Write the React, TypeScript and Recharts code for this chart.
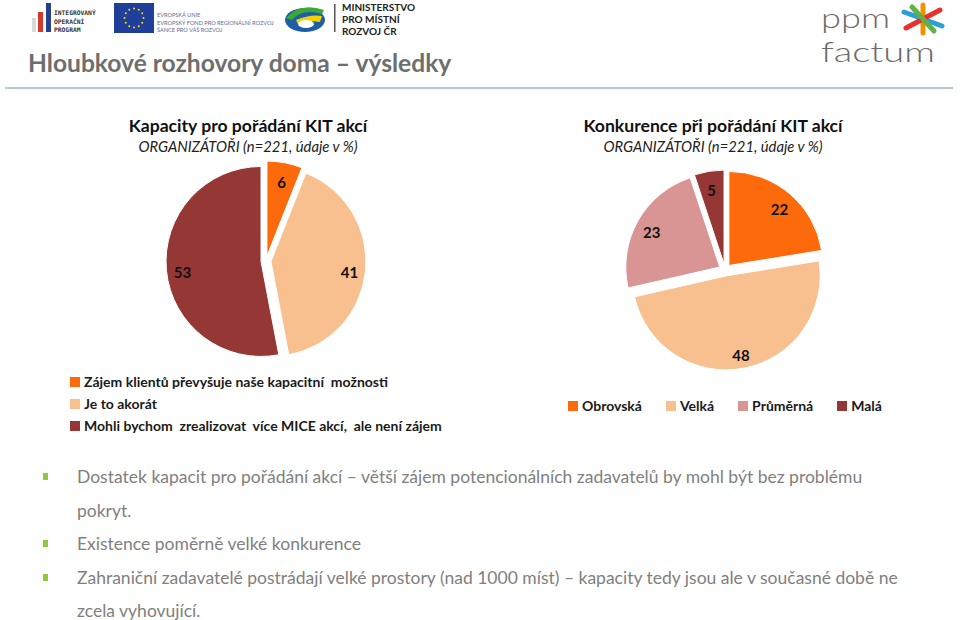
import { Cell, Pie, PieChart } from "recharts";

// Kapacity pro pořádání KIT akcí
const capacityLabels = [
  "Zájem klientů převyšuje naše kapacitní  možnosti",
  "Je to akorát",
  "Mohli bychom  zrealizovat  více MICE akcí,  ale není zájem",
];
const capacityValues = [6, 41, 53];
const capacityColors = ["#fd6a0c", "#f9c08f", "#943735"];

// Konkurence při pořádání KIT akcí
const competitionLabels = ["Obrovská", "Velká", "Průměrná", "Malá"];
const competitionValues = [22, 48, 23, 5];
const competitionColors = ["#fd6a0c", "#f9c08f", "#d99594", "#943735"];

const bulletLines = [
  ["Dostatek kapacit pro pořádání akcí – větší zájem potencionálních zadavatelů by mohl být bez problému", "pokryt."],
  ["Existence poměrně velké konkurence"],
  ["Zahraniční zadavatelé postrádají velké prostory (nad 1000 míst) – kapacity tedy jsou ale v současné době ne", "zcela vyhovující."],
];

const FONT = "Lato, 'Noto Sans', sans-serif";
const RAD = Math.PI / 180;

// clockwise from 12 o'clock, each slice pushed out along its mid angle
function explode(values: number[], offset: number) {
  const total = values.reduce((a, b) => a + b, 0);
  let acc = 0;
  return values.map((v) => {
    const start = 90 - (acc / total) * 360;
    acc += v;
    const end = 90 - (acc / total) * 360;
    const mid = ((start + end) / 2) * RAD;
    return { start, end, dx: offset * Math.cos(mid), dy: -offset * Math.sin(mid) };
  });
}

function renderLabel(props: any) {
  const { cx, cy, midAngle, outerRadius, value } = props;
  const r = outerRadius * 0.83;
  const x = cx + r * Math.cos(-midAngle * RAD);
  const y = cy + r * Math.sin(-midAngle * RAD) + 3;
  return (
    <text
      x={x}
      y={y}
      textAnchor="middle"
      dominantBaseline="central"
      fontFamily={FONT}
      fontWeight={700}
      fontSize={15}
      fill="#111"
    >
      {value}
    </text>
  );
}

function ExplodedPie({
  labels,
  values,
  colors,
  width,
  height,
  cx,
  cy,
  radius,
  offset,
}: {
  labels: string[];
  values: number[];
  colors: string[];
  width: number;
  height: number;
  cx: number;
  cy: number;
  radius: number;
  offset: number;
}) {
  const slices = explode(values, offset);
  return (
    <PieChart width={width} height={height} margin={{ top: 0, right: 0, bottom: 0, left: 0 }}>
      {slices.map((s, i) => (
        <Pie
          key={labels[i]}
          data={[{ name: labels[i], value: values[i] }]}
          dataKey="value"
          nameKey="name"
          cx={cx + s.dx}
          cy={cy + s.dy}
          outerRadius={radius}
          startAngle={s.start}
          endAngle={s.end}
          stroke="#fff"
          strokeWidth={1}
          label={renderLabel}
          labelLine={false}
          isAnimationActive={false}
        >
          <Cell fill={colors[i]} />
        </Pie>
      ))}
    </PieChart>
  );
}

function Logos() {
  const stars = Array.from({ length: 12 }, (_, i) => i * 30 * RAD);
  return (
    <svg width={960} height={90} style={{ position: "absolute", left: 0, top: 0 }}>
      {/* IOP */}
      <rect x={32} y={18} width={4} height={14} fill="#d9d9d9" />
      <rect x={38} y={12} width={5} height={20} fill="#d33a2c" />
      <rect x={46} y={3} width={5} height={29} fill="#27408b" />
      <g fontFamily="'DejaVu Sans Mono', monospace" fontWeight={700} fontSize={6.3} fill="#333">
        <text x={54} y={15}>INTEGROVANÝ</text>
        <text x={54} y={24}>OPERAČNÍ</text>
        <text x={54} y={32}>PROGRAM</text>
      </g>
      {/* EU */}
      <rect x={114} y={3} width={40} height={30} fill="#1f3f9a" />
      {stars.map((a, i) => (
        <circle key={i} cx={134 + 9.5 * Math.cos(a)} cy={18 + 9.5 * Math.sin(a)} r={1} fill="#ffdd00" />
      ))}
      <g fontFamily={FONT} fontSize={5.6} fill="#5a6a9a">
        <text x={157} y={17}>EVROPSKÁ UNIE</text>
        <text x={157} y={25}>EVROPSKÝ FOND PRO REGIONÁLNÍ ROZVOJ</text>
        <text x={157} y={32}>ŠANCE PRO VÁŠ ROZVOJ</text>
      </g>
      {/* MMR */}
      <ellipse cx={305} cy={20} rx={20} ry={12} fill="#1d5ea8" />
      <path d="M286 18 Q300 2 324 10 L322 14 Q302 8 292 20 Z" fill="#3aa935" />
      <path d="M296 20 Q310 14 322 16 L320 22 Q308 20 298 24 Z" fill="#f4d000" />
      <ellipse cx={306} cy={24} rx={8} ry={4} fill="#fff" />
      <rect x={334} y={4} width={1.5} height={28} fill="#555" />
      <g fontFamily={FONT} fontWeight={700} fontSize={10} fill="#222">
        <text x={342} y={11}>MINISTERSTVO</text>
        <text x={342} y={23}>PRO MÍSTNÍ</text>
        <text x={342} y={35}>ROZVOJ ČR</text>
      </g>
      {/* ppm factum */}
      <g fontFamily={FONT} fontWeight={300} fontSize={28} fill="#6b6b6b">
        <text x={821} y={28} textLength={69} lengthAdjust="spacingAndGlyphs">ppm</text>
        <text x={821} y={62} textLength={114} lengthAdjust="spacingAndGlyphs">factum</text>
      </g>
      <g strokeWidth={5} strokeLinecap="round">
        <line x1={923} y1={5} x2={923} y2={33} stroke="#f29100" />
        <line x1={904} y1={12} x2={942} y2={26} stroke="#2c9fd9" />
        <line x1={906} y1={28} x2={940} y2={10} stroke="#e4332d" />
        <line x1={912} y1={7} x2={934} y2={31} stroke="#5fb246" />
      </g>
      <line x1={5} y1={88} x2={953} y2={88} stroke="#9fb4cc" strokeWidth={1.5} />
    </svg>
  );
}

function ChartTitle({ title, center }: { title: string; center: number }) {
  return (
    <div
      style={{
        position: "absolute",
        left: center - 200,
        width: 400,
        top: 115,
        textAlign: "center",
        fontFamily: FONT,
        color: "#111",
      }}
    >
      <div style={{ fontWeight: 700, fontSize: 17.6, lineHeight: "22px" }}>{title}</div>
      <div style={{ fontStyle: "italic", fontSize: 14.8, lineHeight: "18px", color: "#222" }}>
        ORGANIZÁTOŘI (n=221, údaje v %)
      </div>
    </div>
  );
}

function Swatch({ color }: { color: string }) {
  return (
    <span
      style={{
        display: "inline-block",
        width: 10,
        height: 10,
        background: color,
        marginRight: 4,
        verticalAlign: "middle",
      }}
    />
  );
}

export default function App() {
  return (
    <div
      style={{
        position: "relative",
        width: 960,
        height: 620,
        background: "#fff",
        overflow: "hidden",
        fontFamily: FONT,
      }}
    >
      <style>{"body{margin:0}"}</style>
      <Logos />
      <div
        style={{
          position: "absolute",
          left: 28,
          top: 48,
          fontSize: 24.6,
          fontWeight: 700,
          color: "#6e6e6e",
          whiteSpace: "nowrap",
        }}
      >
        Hloubkové rozhovory doma – výsledky
      </div>

      <ChartTitle title="Kapacity pro pořádání KIT akcí" center={248} />
      <ChartTitle title="Konkurence při pořádání KIT akcí" center={713} />

      <div style={{ position: "absolute", left: 140, top: 150 }}>
        <ExplodedPie
          labels={capacityLabels}
          values={capacityValues}
          colors={capacityColors}
          width={260}
          height={230}
          cx={126}
          cy={111}
          radius={95}
          offset={5}
        />
      </div>
      <div style={{ position: "absolute", left: 600, top: 155 }}>
        <ExplodedPie
          labels={competitionLabels}
          values={competitionValues}
          colors={competitionColors}
          width={250}
          height={230}
          cx={125}
          cy={115}
          radius={94}
          offset={6}
        />
      </div>

      <div style={{ position: "absolute", left: 70, top: 370, fontSize: 14, fontWeight: 700, color: "#1a1a1a" }}>
        {capacityLabels.map((l, i) => (
          <div key={l} style={{ height: 22, lineHeight: "22px", whiteSpace: "pre" }}>
            <Swatch color={capacityColors[i]} />
            <span style={{ verticalAlign: "middle" }}>{l}</span>
          </div>
        ))}
      </div>
      <div
        style={{
          position: "absolute",
          left: 568,
          top: 394,
          fontSize: 14,
          fontWeight: 700,
          color: "#1a1a1a",
          display: "flex",
          gap: 24,
          lineHeight: "22px",
        }}
      >
        {competitionLabels.map((l, i) => (
          <div key={l}>
            <Swatch color={competitionColors[i]} />
            <span style={{ verticalAlign: "middle" }}>{l}</span>
          </div>
        ))}
      </div>

      <div style={{ position: "absolute", left: 0, top: 460, width: 960, fontSize: 17.5, color: "#7f7f7f" }}>
        {bulletLines.map((lines, i) => (
          <div key={i}>
            {lines.map((t, j) => (
              <div key={j} style={{ position: "relative", height: 33.5, lineHeight: "33.5px", paddingLeft: 77, whiteSpace: "nowrap" }}>
                {j === 0 && (
                  <span
                    style={{ position: "absolute", left: 43, top: 13, width: 5, height: 7, background: "#92c83e" }}
                  />
                )}
                {t}
              </div>
            ))}
          </div>
        ))}
      </div>
    </div>
  );
}
